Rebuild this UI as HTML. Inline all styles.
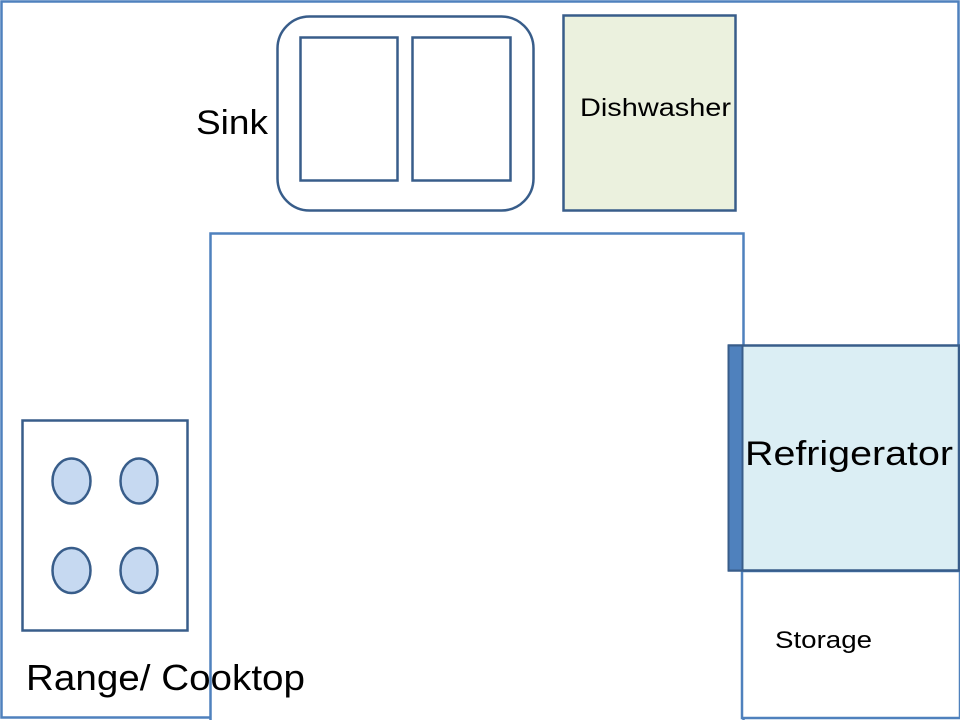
<!DOCTYPE html>
<html><head><meta charset="utf-8"><style>
html,body{margin:0;padding:0;background:#fff;}
svg{display:block;}
text{font-family:"Liberation Sans",sans-serif;fill:#000;}
</style></head><body>
<svg width="960" height="720" viewBox="0 0 960 720" xmlns="http://www.w3.org/2000/svg">
<rect x="1.5" y="1.5" width="957" height="716" fill="#fff" stroke="#4f81bd" stroke-width="2.5"/>
<rect x="210.5" y="233.5" width="533" height="490" fill="#fff" stroke="#4f81bd" stroke-width="2.5"/>
<rect x="742" y="571" width="218" height="147" fill="#fff" stroke="#4f81bd" stroke-width="2.5"/>
<rect x="277.5" y="16.5" width="256" height="194" rx="32" fill="#fff" stroke="#385d8a" stroke-width="2.5"/>
<rect x="300.5" y="37.5" width="97" height="143" fill="#fff" stroke="#385d8a" stroke-width="2.5"/>
<rect x="412.5" y="37.5" width="98" height="143" fill="#fff" stroke="#385d8a" stroke-width="2.5"/>
<text x="196" y="134" font-size="34" textLength="72" lengthAdjust="spacingAndGlyphs">Sink</text>
<rect x="563.5" y="15.5" width="172" height="195" fill="#ebf1de" stroke="#385d8a" stroke-width="2.5"/>
<text x="580" y="116" font-size="25" textLength="151" lengthAdjust="spacingAndGlyphs">Dishwasher</text>
<rect x="729" y="345.5" width="230" height="225" fill="#dbeef4" stroke="#385d8a" stroke-width="2.5"/>
<rect x="728.5" y="345.5" width="14" height="225" fill="#4f81bd" stroke="#385d8a" stroke-width="2"/>
<text x="745" y="465" font-size="34" textLength="208" lengthAdjust="spacingAndGlyphs">Refrigerator</text>
<text x="775" y="648" font-size="24" textLength="97" lengthAdjust="spacingAndGlyphs">Storage</text>
<rect x="22.5" y="420.5" width="165" height="210" fill="#fff" stroke="#385d8a" stroke-width="2.5"/>
<g fill="#c6d9f1" stroke="#385d8a" stroke-width="2.5">
<ellipse cx="71.5" cy="481" rx="19" ry="22.5"/>
<ellipse cx="139" cy="481" rx="18.5" ry="22.5"/>
<ellipse cx="71.5" cy="570.5" rx="19" ry="22.5"/>
<ellipse cx="139" cy="570.5" rx="18.5" ry="22.5"/>
</g>
<text x="26" y="690" font-size="36" textLength="279" lengthAdjust="spacingAndGlyphs">Range/ Cooktop</text>
</svg>
</body></html>
